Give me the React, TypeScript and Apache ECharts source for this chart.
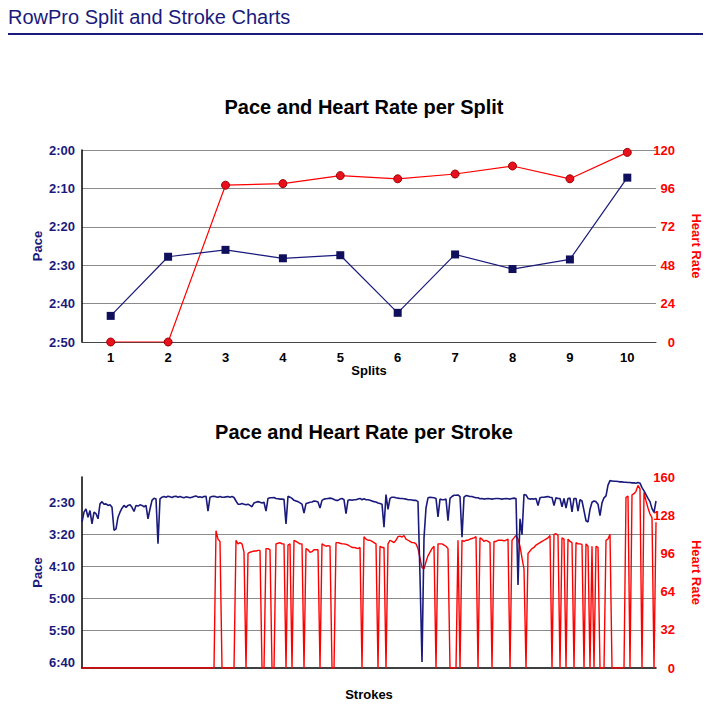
import React, { useEffect, useRef } from 'react';
import * as echarts from 'echarts';

// ---- Split chart data ----
const splitLabels = ['1', '2', '3', '4', '5', '6', '7', '8', '9', '10'];
// pace in seconds per 500m
const splitPace = [163.2, 147.8, 146.0, 148.2, 147.4, 162.4, 147.2, 151.0, 148.5, 127.2];
const splitHR = [0, 0, 98, 99, 104, 102, 105, 110, 102, 118.5];

const splitPaceTicks = { min: 120, max: 170, interval: 10 };
const splitHRTicks = { min: 0, max: 120, interval: 24 };

// ---- Stroke chart data (pace in seconds, heart rate in bpm) ----
const strokePace = [
  180, 164.6, 159.5, 172.5, 162, 183, 164.6, 167, 175, 151.5, 148, 152,
  151.5, 154, 153, 157, 193, 190.7, 172.5, 164.6, 158.3, 154, 157, 154,
  153, 157, 163.5, 154, 155, 153, 154, 156, 154, 175, 159.5, 146,
  142.6, 143.7, 214, 143.7, 141, 140, 141, 139.5, 140.5, 141.5, 140, 139.5,
  141, 140, 141, 142, 140.5, 141, 142, 141, 140, 139, 141, 140.5,
  141.5, 140, 139.5, 163, 141, 140, 139.5, 140.5, 141, 140, 141, 141,
  140.5, 140, 141, 140, 141.5, 147, 152, 152, 151, 152, 153, 152,
  154, 156, 150, 149, 148, 149, 150, 149, 163, 143, 142, 142,
  141.5, 143, 143.5, 144, 144, 144.5, 183, 139.5, 141, 143, 146, 147,
  148, 150, 152, 166, 151, 150, 149, 148.5, 147, 147.5, 148.5, 158,
  146, 144, 143.5, 143, 142.5, 143, 144.5, 146, 146, 144, 143, 145,
  167, 146, 145, 146, 145, 145, 144, 143, 145, 143.5, 145, 145,
  146, 147, 148, 148.5, 150, 151, 152, 188, 137, 160, 143, 141,
  141, 142, 142.5, 143, 143, 143.5, 144, 145, 145, 145.5, 146, 146,
  148, 265, 400, 205, 158, 142, 141, 141.5, 142, 143, 172, 144,
  145, 145, 144, 178, 143, 140, 138, 138, 137.5, 140, 204, 141,
  138.5, 139, 140, 140, 141, 142, 142, 143.5, 143, 144, 143.5, 143,
  143.5, 144, 143.5, 143, 143, 143.5, 144, 143.5, 143, 143.5, 144, 143,
  142.5, 143, 279, 175, 200, 137, 137.5, 143, 144, 143.5, 144, 143,
  154, 142, 141, 141, 140.5, 140, 141, 141.5, 154, 142, 143, 143,
  156, 143, 158, 143, 142.5, 164, 143, 143, 163, 145, 147, 162,
  178, 180, 160, 149, 147, 148, 152, 170, 150, 142, 139, 122,
  115, 115.5, 116, 116, 116.5, 117, 117, 117.5, 117.5, 118, 118, 118.5,
  118.5, 119, 118, 119, 126, 131, 137, 143, 148, 159, 165, 147,
];

const strokeHR = [
  0, 0, 0, 0, 0, 0, 0, 0, 0, 0, 0, 0,
  0, 0, 0, 0, 0, 0, 0, 0, 0, 0, 0, 0,
  0, 0, 0, 0, 0, 0, 0, 0, 0, 0, 0, 0,
  0, 0, 0, 0, 0, 0, 0, 0, 0, 0, 0, 0,
  0, 0, 0, 0, 0, 0, 0, 0, 0, 0, 0, 0,
  0, 0, 0, 0, 0, 0, 0, 115, 108, 106, 0, 0,
  0, 0, 0, 0, 0, 107, 104, 105, 104, 97, 0, 96,
  97, 97.5, 98, 98, 98.5, 98.5, 0, 0, 100, 100, 99, 0,
  0, 104, 104.5, 105, 104, 104, 0, 103, 104, 0, 107, 106,
  105, 104, 104, 0, 100, 99, 97, 97.5, 99, 99, 99, 0,
  104, 103, 102, 102.5, 102, 0, 0, 105, 105, 104.5, 104, 104,
  103.5, 103, 102, 101, 101, 100.5, 100, 101, 0, 110, 108, 107,
  107, 106, 105, 104, 0, 102, 101, 101, 0, 104, 107, 106,
  105, 107, 110, 110.5, 109.7, 111, 108, 107, 106, 105, 105, 104,
  100, 92, 84, 83, 89, 94, 97, 100, 102, 0, 104, 104,
  104, 103, 102, 100, 0, 0, 0, 0, 107, 0, 107, 106,
  107, 107, 108, 108.5, 109, 110, 0, 109, 108, 106, 107, 106,
  105, 0, 106, 106, 107, 107, 107, 106.5, 107, 108, 0, 107,
  109, 111, 108, 102, 92, 83, 0, 96, 98, 100, 101, 103,
  104, 105, 106, 107, 108, 109, 111, 0, 112, 112.5, 111, 0,
  109, 108, 0, 108, 106, 105, 0, 105, 104, 104, 103.5, 0,
  104, 102, 0, 102, 0, 102, 101, 0, 0, 0, 107, 108,
  112, 0, 0, 0, 0, 0, 0, 0, 143, 144, 0, 145,
  146, 148, 153, 150, 0, 147, 140, 134, 129, 126, 0, 122,
];

const strokePaceRange = { min: 109.3, max: 409.4 };
const strokePaceTicks = [150, 200, 250, 300, 350, 400];
const strokeHRTicks = { min: 0, max: 160, interval: 32 };

const FONT = '"Liberation Sans", Arial, Helvetica, sans-serif';
const NAVY = '#1a1a7c';
const RED = '#ff0000';
const GRID = '#8a8a8a';

function fmtPace(v: number): string {
  const s = Math.round(v);
  return Math.floor(s / 60) + ':' + String(s % 60).padStart(2, '0');
}

export default function App() {
  const ref = useRef<HTMLDivElement>(null);
  useEffect(() => {
    const chart = echarts.init(ref.current!, null, { renderer: 'svg' });
    const strokeLabels = strokePace.map((_, i) => String(i + 1));
    const leftLabel = { color: NAVY, fontWeight: 'bold', fontSize: 13, fontFamily: FONT, margin: 7 };
    const rightLabel = { color: RED, fontWeight: 'bold', fontSize: 13, fontFamily: FONT, margin: 19, align: 'right' };
    const titleStyle = { fontFamily: FONT, fontSize: 20, fontWeight: 'bold', color: '#000' };
    const nameStyle = (color: string) => ({ color, fontWeight: 'bold', fontSize: 13, fontFamily: FONT });
    chart.setOption({
      animation: false,
      backgroundColor: '#fff',
      title: [
        { text: 'RowPro Split and Stroke Charts', left: 8, top: 7, padding: 0,
          textStyle: { fontFamily: FONT, fontSize: 20, fontWeight: 'normal', color: NAVY } },
        { text: 'Pace and Heart Rate per Split', left: 364, top: 97, padding: 0, textAlign: 'center', textStyle: titleStyle },
        { text: 'Pace and Heart Rate per Stroke', left: 364, top: 422, padding: 0, textAlign: 'center', textStyle: titleStyle },
      ],
      graphic: [
        { type: 'line', shape: { x1: 8, y1: 34, x2: 703, y2: 34 }, style: { stroke: NAVY, lineWidth: 2 } },
      ],
      grid: [
        { left: 82, top: 150, width: 574, height: 192 },
        { left: 82, top: 477, width: 574, height: 191 },
      ],
      xAxis: [
        {
          type: 'category', gridIndex: 0, data: splitLabels, boundaryGap: true,
          name: 'Splits', nameLocation: 'middle', nameGap: 22, nameMoveOverlap: false,
          nameTextStyle: nameStyle('#000'),
          axisLine: { lineStyle: { color: '#444', width: 1 } },
          axisTick: { show: false },
          axisLabel: { color: '#000', fontWeight: 'bold', fontSize: 13, fontFamily: FONT, margin: 9 },
        },
        {
          type: 'category', gridIndex: 1, data: strokeLabels, boundaryGap: false,
          name: 'Strokes', nameLocation: 'middle', nameGap: 20, nameMoveOverlap: false,
          nameTextStyle: nameStyle('#000'),
          axisLine: { lineStyle: { color: '#000', width: 1.5 } },
          axisTick: { show: false },
          axisLabel: { show: false },
        },
      ],
      yAxis: [
        {
          type: 'value', gridIndex: 0, position: 'left', inverse: true,
          min: splitPaceTicks.min, max: splitPaceTicks.max, interval: splitPaceTicks.interval,
          name: 'Pace', nameLocation: 'middle', nameGap: 38, nameMoveOverlap: false,
          nameTextStyle: nameStyle(NAVY),
          axisLine: { show: true, lineStyle: { color: '#000', width: 1.5 } },
          axisTick: { show: false },
          axisLabel: { ...leftLabel, formatter: (v: number) => fmtPace(v) },
          splitLine: { show: true, lineStyle: { color: GRID, width: 1 } },
        },
        {
          type: 'value', gridIndex: 0, position: 'right',
          min: splitHRTicks.min, max: splitHRTicks.max, interval: splitHRTicks.interval,
          name: 'Heart Rate', nameLocation: 'middle', nameGap: 34, nameRotate: -90, nameMoveOverlap: false,
          nameTextStyle: nameStyle(RED),
          axisLine: { show: false }, axisTick: { show: false },
          axisLabel: rightLabel,
          splitLine: { show: false },
        },
        {
          type: 'value', gridIndex: 1, position: 'left', inverse: true,
          min: strokePaceRange.min, max: strokePaceRange.max,
          name: 'Pace', nameLocation: 'middle', nameGap: 38, nameMoveOverlap: false,
          nameTextStyle: nameStyle(NAVY),
          axisLine: { show: true, lineStyle: { color: '#000', width: 1.5 } },
          axisTick: { show: false, customValues: strokePaceTicks },
          axisLabel: { ...leftLabel, customValues: strokePaceTicks, formatter: (v: number) => fmtPace(v) },
          splitLine: { show: true, showMinLine: false, showMaxLine: false, lineStyle: { color: GRID, width: 1 } },
        },
        {
          type: 'value', gridIndex: 1, position: 'right',
          min: strokeHRTicks.min, max: strokeHRTicks.max, interval: strokeHRTicks.interval,
          name: 'Heart Rate', nameLocation: 'middle', nameGap: 34, nameRotate: -90, nameMoveOverlap: false,
          nameTextStyle: nameStyle(RED),
          axisLine: { show: false }, axisTick: { show: false },
          axisLabel: rightLabel,
          splitLine: { show: false },
        },
      ],
      series: [
        {
          type: 'line', xAxisIndex: 0, yAxisIndex: 1, data: splitHR,
          symbol: 'circle', symbolSize: 8, showAllSymbol: true,
          lineStyle: { color: RED, width: 1.2 },
          itemStyle: { color: '#e8101c', borderColor: '#a00000', borderWidth: 1 },
          z: 3,
        },
        {
          type: 'line', xAxisIndex: 0, yAxisIndex: 0, data: splitPace,
          symbol: 'rect', symbolSize: 8, showAllSymbol: true,
          lineStyle: { color: NAVY, width: 1.2 },
          itemStyle: { color: '#0f0f5c', borderColor: '#0f0f5c', borderWidth: 0 },
          z: 4,
        },
        {
          type: 'line', xAxisIndex: 1, yAxisIndex: 3, data: strokeHR,
          symbol: 'none', lineStyle: { color: RED, width: 1.4 }, z: 3,
        },
        {
          type: 'line', xAxisIndex: 1, yAxisIndex: 2, data: strokePace,
          symbol: 'none', lineStyle: { color: NAVY, width: 1.6 }, z: 4,
        },
      ],
    });
    return () => chart.dispose();
  }, []);
  return <div ref={ref} style={{ position: 'fixed', left: 0, top: 0, width: 712, height: 706 }} />;
}
